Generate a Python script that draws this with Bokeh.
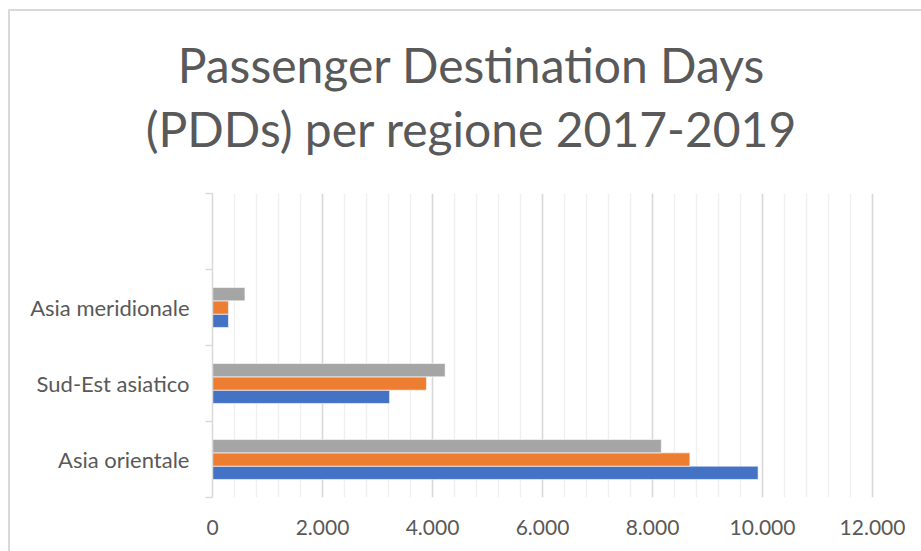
from bokeh.plotting import figure
from bokeh.layouts import column, row
from bokeh.models import Range1d, FixedTicker, ColumnDataSource
from bokeh.core.properties import value
from bokeh.embed import file_html
from bokeh.resources import INLINE

# ---- data ----
categories = ["Asia orientale", "Sud-Est asiatico", "Asia meridionale"]
series_names = ["2017", "2018", "2019"]
pdd_2017 = [9920, 3220, 290]
pdd_2018 = [8680, 3890, 290]
pdd_2019 = [8160, 4230, 590]
x_ticks = [0, 2000, 4000, 6000, 8000, 10000, 12000]
x_tick_labels = ["0", "2.000", "4.000", "6.000", "8.000", "10.000", "12.000"]
title_lines = ["Passenger Destination Days", "(PDDs) per regione 2017-2019"]

# ---- style ----
colors = ["#4472C4", "#ED7D31", "#A5A5A5"]
text_color = "#595959"
FONT = "Lato"
W, H = 921, 551
OX, OY = 10, 11            # content origin inside the chart-area border
TITLE_H = 180 - OY
CW = W - OX
CH = H - 180
LEFT, RIGHT, TOP, BOTTOM = 212 - OX, 47, 193 - 180, 54
X_MAX = 12000 * (CW - LEFT - RIGHT) / (CW - LEFT - RIGHT - 2)
n_slots = len(categories) + 1  # Excel leaves an empty slot on top
bar_h = 0.175
offsets = [-bar_h, 0.0, bar_h]
title_baselines = [64, 128]   # canvas y of each title line's baseline

# ---- title block ----
t = figure(width=CW, height=TITLE_H, output_backend="svg", toolbar_location=None,
           x_range=Range1d(0, CW), y_range=Range1d(0, TITLE_H),
           x_axis_location=None, y_axis_location=None, title=None,
           min_border=0, min_border_left=0, min_border_right=0, min_border_top=0, min_border_bottom=0)
t.grid.visible = False
t.outline_line_color = None
t.text(x=[471 - OX] * 2, y=[TITLE_H - (b - OY) for b in title_baselines], text=title_lines,
       text_align="center", text_baseline="alphabetic",
       text_font=value(FONT), text_font_size="48px", text_color=text_color)

# ---- chart ----
p = figure(width=CW, height=CH, output_backend="svg", toolbar_location=None,
           x_range=Range1d(0, X_MAX), y_range=Range1d(0, n_slots),
           min_border_left=LEFT, min_border_right=RIGHT,
           min_border_top=TOP, min_border_bottom=BOTTOM)
p.outline_line_color = None

series_vals = [pdd_2017, pdd_2018, pdd_2019]
for name, vals, col, off in zip(series_names, series_vals, colors, offsets):
    src = ColumnDataSource(dict(
        y=[i + 0.5 + off for i in range(len(categories))],
        right=vals, cat=categories))
    p.hbar(y="y", left=0, right="right", height=bar_h, source=src,
           fill_color=col, line_color="white", line_width=0.6)

# x axis
xa = p.xaxis[0]
xa.ticker = FixedTicker(ticks=x_ticks, minor_ticks=list(range(0, 12001, 400)))
xa.major_label_overrides = {tk: lb for tk, lb in zip(x_ticks, x_tick_labels)}
xa.axis_line_color = None
xa.major_tick_line_color = None
xa.minor_tick_line_color = None
xa.major_label_text_font = FONT
xa.major_label_text_font_size = "21px"
xa.major_label_text_color = text_color
xa.major_label_standoff = 16

# y axis
ya = p.yaxis[0]
centers = [i + 0.5 for i in range(n_slots)]
ya.ticker = FixedTicker(ticks=centers, minor_ticks=list(range(n_slots + 1)))
ya.major_label_overrides = {c: (categories[i] if i < len(categories) else "") for i, c in enumerate(centers)}
ya.axis_line_color = "#d9d9d9"
ya.axis_line_width = 1.5
ya.major_tick_line_color = None
ya.major_tick_out = 0
ya.major_tick_in = 0
ya.minor_tick_line_color = "#d9d9d9"
ya.minor_tick_line_width = 1.5
ya.minor_tick_out = 7
ya.minor_tick_in = 0
ya.major_label_text_font = FONT
ya.major_label_text_font_size = "22px"
ya.major_label_text_color = text_color
ya.major_label_standoff = 16

# grid
p.ygrid.grid_line_color = None
p.xgrid.grid_line_color = "#d9d9d9"
p.xgrid.grid_line_width = 1.5
p.xgrid.minor_grid_line_color = "#f0f0f0"
p.xgrid.minor_grid_line_width = 1.5

# keep the title block's frame independent of the chart's frame
if "frame_align" in t.properties():
    t.frame_align = False
    p.frame_align = False
    top_block = t
else:
    top_block = row(t, spacing=0)

layout = column(top_block, p, spacing=0, margin=(OY - 2, 0, 0, OX - 2),
                styles={"border-top": "2px solid #d9d9d9", "border-left": "2px solid #d9d9d9"})

open("out.html", "w").write(file_html(layout, INLINE))
